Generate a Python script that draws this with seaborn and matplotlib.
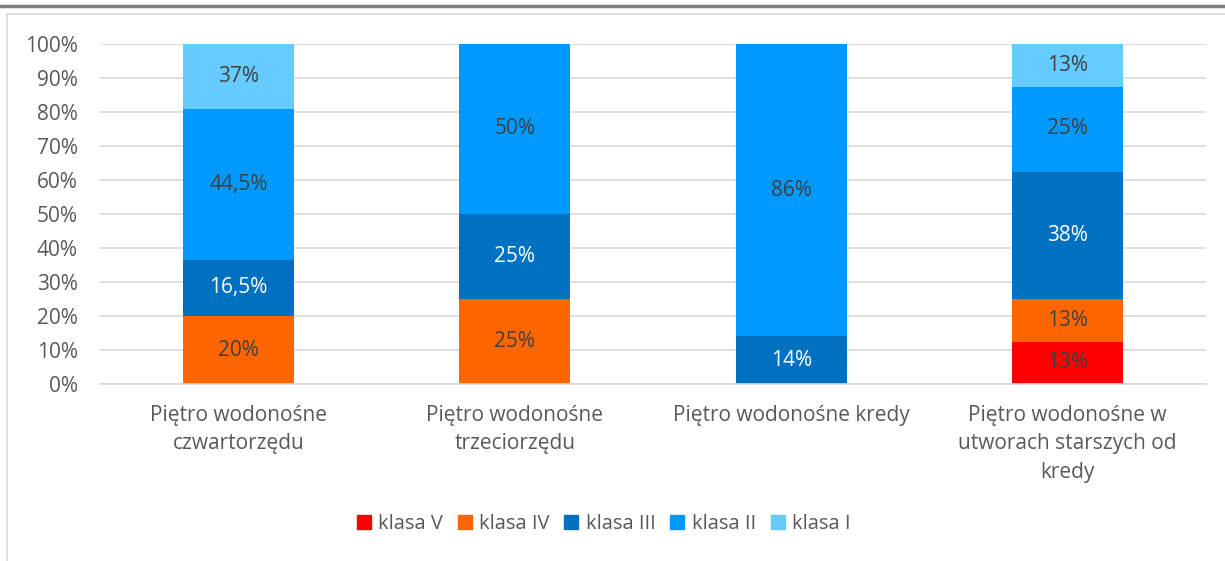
import numpy as np
import pandas as pd
import matplotlib
matplotlib.use("Agg")
import matplotlib.pyplot as plt
import seaborn as sns
from matplotlib.patches import Rectangle
from matplotlib.lines import Line2D

categories = ["Piętro wodonośne\nczwartorzędu",
              "Piętro wodonośne\ntrzeciorzędu",
              "Piętro wodonośne kredy",
              "Piętro wodonośne w\nutworach starszych od\nkredy"]
classes = ["klasa V", "klasa IV", "klasa III", "klasa II", "klasa I"]
klasa_V = [0, 0, 0, 12.5]
klasa_IV = [20, 25, 0, 12.5]
klasa_III = [16.5, 25, 14, 37.5]
klasa_II = [44.5, 50, 86, 25]
klasa_I = [19, 0, 0, 12.5]
labels_V = ["", "", "", "13%"]
labels_IV = ["20%", "25%", "", "13%"]
labels_III = ["16,5%", "25%", "14%", "38%"]
labels_II = ["44,5%", "50%", "86%", "25%"]
labels_I = ["37%", "", "", "13%"]
yticks = [0, 10, 20, 30, 40, 50, 60, 70, 80, 90, 100]
colors = ["#FF0000", "#FF6600", "#0070C0", "#0099FF", "#66CCFF"]
label_colors = ["#404040", "#404040", "#FFFFFF", "#404040", "#404040"]

series = [klasa_V, klasa_IV, klasa_III, klasa_II, klasa_I]
series_labels = [labels_V, labels_IV, labels_III, labels_II, labels_I]

sns.set_theme(style="white")
plt.rcParams['font.family'] = ['Open Sans', 'DejaVu Sans']
FS = 15
FS_LEG = 14.5

fig = plt.figure(figsize=(12.25, 5.61), dpi=100)
ax = fig.add_axes([100/1225, 1-384/561, 1106/1225, 340/561])

vals = np.array(series, dtype=float)
cum = np.cumsum(vals, axis=0)

# draw cumulative bars from top class down, so each lower segment overlays
for i in range(len(classes)-1, -1, -1):
    df = pd.DataFrame({"cat": categories, "val": cum[i]})
    sns.barplot(data=df, x="cat", y="val", color=colors[i], width=0.4,
                saturation=1, ax=ax, zorder=2, linewidth=0)

# labels
for i in range(len(classes)):
    bottoms = cum[i] - vals[i]
    for j in range(len(categories)):
        if vals[i][j] > 0 and series_labels[i][j]:
            ax.text(j, bottoms[j] + vals[i][j]/2, series_labels[i][j],
                    ha="center", va="center", fontsize=FS,
                    color=label_colors[i], zorder=3)

ax.set_ylim(0, 100)
ax.set_xlim(-0.5, len(categories)-0.5)
ax.set_yticks(yticks)
ax.set_yticklabels([f"{t}%" for t in yticks])
ax.yaxis.grid(True, color="#D9D9D9", linewidth=1.2, zorder=0)
ax.set_axisbelow(True)
for s in ax.spines.values():
    s.set_visible(False)
ax.spines["bottom"].set_visible(True)
ax.spines["bottom"].set_color("#D9D9D9")
ax.tick_params(axis="both", length=0, labelsize=FS, labelcolor="#595959")
ax.tick_params(axis="y", pad=16)
ax.tick_params(axis="x", pad=15)
ax.set_xlabel("")
ax.set_ylabel("")
for t in ax.get_xticklabels():
    t.set_linespacing(1.47)
    t.set_va("top")

handles = [Line2D([0], [0], marker="s", linestyle="", markersize=9.5,
                  markerfacecolor=c, markeredgecolor=c) for c in colors]
fig.legend(handles, classes, loc="center", bbox_to_anchor=(602/1225, 1-524/561),
           ncol=5, frameon=False, fontsize=FS_LEG, labelcolor="#595959",
           handletextpad=0.2, columnspacing=0.6, handlelength=1.0)

# chart frame and top line
fig.add_artist(Rectangle((7/1225, -0.01), 1.02, 1-14/561+0.01,
                         transform=fig.transFigure, fill=False,
                         edgecolor="#D9D9D9", linewidth=1.2))
fig.add_artist(Line2D([0, 1], [1-6/561, 1-6/561], transform=fig.transFigure,
                      color="#7F7F7F", linewidth=2.5))

fig.savefig("out.png", dpi=100)
